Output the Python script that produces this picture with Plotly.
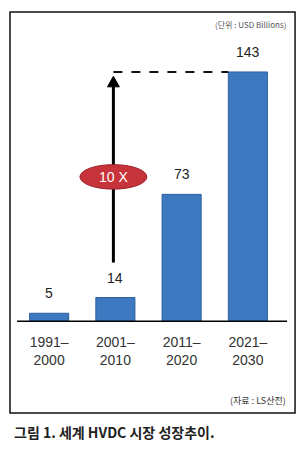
import plotly.graph_objects as go

categories = ["1991–<br>2000", "2001–<br>2010", "2011–<br>2020", "2021–<br>2030"]
values = [5, 14, 73, 143]
value_labels = ["5", "14", "73", "143"]
growth_label = "10 X"
unit_text = "(단위 : USD Billions)"
source_text = "(자료 : LS산전)"
caption_text = "그림 1. 세계 HVDC 시장 성장추이."

xs = list(range(len(categories)))
FONT = "Liberation Sans Narrow, Liberation Sans, Arial"

fig = go.Figure()
fig.add_trace(go.Bar(
    x=xs, y=values, width=0.59,
    marker=dict(color="#3d79c0", line=dict(color="#2d5f9c", width=1)),
    hoverinfo="skip",
))

for x, v, t in zip(xs, values, value_labels):
    fig.add_annotation(x=x, y=v, text=t, showarrow=False, yshift=20,
                       font=dict(family=FONT, size=14, color="#222"))

arrow_x = 0.97
top = values[-1]
# dashed line
fig.add_shape(type="line", xref="x", yref="y", x0=arrow_x, x1=xs[-1] - 0.295,
              y0=top, y1=top, line=dict(color="#111", width=2, dash="dash"))
# arrow shaft
fig.add_shape(type="line", xref="x", yref="y", x0=arrow_x, x1=arrow_x,
              y0=34, y1=top - 7, line=dict(color="#000", width=3))
# arrow head
hw = 0.09
fig.add_shape(type="path", xref="x", yref="y",
              path=f"M {arrow_x - hw} {top - 8.5} L {arrow_x + hw} {top - 8.5} L {arrow_x} {top - 2.5} Z",
              fillcolor="#000", line=dict(color="#000", width=1))

# red ellipse
ex, ey = arrow_x, 83
fig.add_shape(type="circle", xref="x", yref="y",
              x0=ex - 0.505, x1=ex + 0.505, y0=ey - 7, y1=ey + 7,
              fillcolor="#c7333b", line=dict(color="#9e1f27", width=1))
fig.add_annotation(x=ex, y=ey, text=growth_label, showarrow=False,
                   font=dict(family="Liberation Sans, Arial", size=14, color="white"))

# baseline
fig.add_shape(type="line", xref="paper", yref="y", x0=0.004, x1=1.023, y0=0, y1=0,
              line=dict(color="#000", width=3))

# outer frame
fig.add_shape(type="rect", xref="paper", yref="paper",
              x0=-0.0226, x1=1.053, y0=-0.3116, y1=1.0616,
              line=dict(color="#111", width=1.5), fillcolor="rgba(0,0,0,0)")

fig.add_annotation(xref="paper", yref="paper", x=1.026, y=1.0205, text=unit_text,
                   showarrow=False, xanchor="right", yanchor="middle",
                   font=dict(family="Noto Sans CJK KR", size=8, color="#555"))
fig.add_annotation(xref="paper", yref="paper", x=1.026, y=-0.2705, text=source_text,
                   showarrow=False, xanchor="right", yanchor="middle",
                   font=dict(family="Noto Sans CJK KR", size=9, color="#333"))
fig.add_annotation(xref="paper", yref="paper", x=-0.015, y=-0.3767, text=f"<b>{caption_text}</b>",
                   showarrow=False, xanchor="left", yanchor="middle",
                   font=dict(family="Noto Sans CJK KR", size=14, color="#222"))

fig.update_layout(
    width=303, height=456,
    margin=dict(l=16, r=22, t=30, b=134),
    paper_bgcolor="white", plot_bgcolor="white",
    showlegend=False,
    xaxis=dict(tickmode="array", tickvals=xs, ticktext=categories,
               range=[-0.5, 3.5], showgrid=False, zeroline=False, showline=False,
               ticks="", ticklabelstandoff=10,
               tickfont=dict(family=FONT, size=14, color="#333"),
               fixedrange=True),
    yaxis=dict(range=[0, 167], visible=False, fixedrange=True),
)

fig.write_html("out.html", config={"displayModeBar": False})
